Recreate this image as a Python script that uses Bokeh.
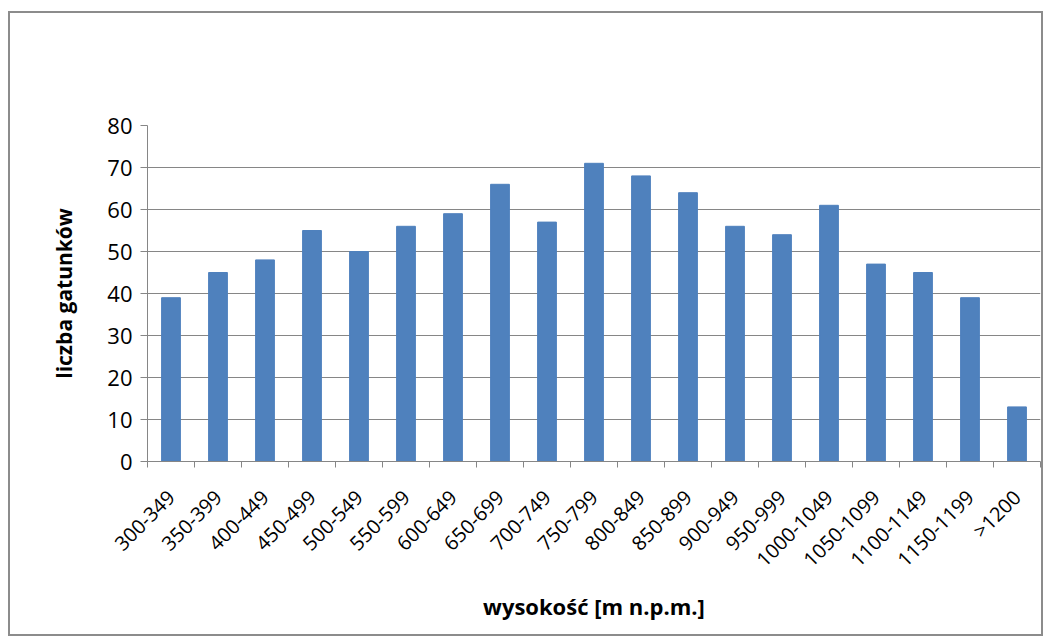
import math
from bokeh.plotting import figure
from bokeh.models import FixedTicker, ColumnDataSource
from bokeh.embed import file_html
from bokeh.resources import INLINE

categories = ["300-349", "350-399", "400-449", "450-499", "500-549", "550-599",
              "600-649", "650-699", "700-749", "750-799", "800-849", "850-899",
              "900-949", "950-999", "1000-1049", "1050-1099", "1100-1149",
              "1150-1199", ">1200"]
values = [39, 45, 48, 55, 50, 56, 59, 66, 57, 71, 68, 64, 56, 54, 61, 47, 45, 39, 13]
y_ticks = [0, 10, 20, 30, 40, 50, 60, 70, 80]

n = len(categories)
centers = [i + 0.5 for i in range(n)]
src = ColumnDataSource(dict(x=centers, top=values))

FONT = "Open Sans"
GRAY = "#868686"

p = figure(width=1035, height=625, output_backend="svg", toolbar_location=None,
           x_range=(0, n), y_range=(0, 80),
           min_border_left=137, min_border_right=5, min_border_top=112,
           min_border_bottom=177)
p.styles = {"border": "2px solid #8c8c8c", "margin-left": "8px", "margin-top": "11px"}
p.outline_line_color = None
p.background_fill_color = "white"
p.border_fill_color = "white"

p.vbar(x="x", top="top", width=0.4, source=src, fill_color="#4F81BD",
       line_color="#4F81BD")

# y axis
p.yaxis.ticker = FixedTicker(ticks=y_ticks)
p.yaxis.axis_line_color = GRAY
p.yaxis.major_tick_line_color = GRAY
p.yaxis.major_tick_in = 0
p.yaxis.major_tick_out = 7
p.yaxis.minor_tick_line_color = None
p.yaxis.major_label_text_font = FONT
p.yaxis.major_label_text_font_size = "22px"
p.yaxis.major_label_text_color = "black"
p.yaxis.major_label_standoff = 8
p.yaxis.axis_label = "liczba gatunków"
p.yaxis.axis_label_text_font = FONT
p.yaxis.axis_label_text_font_size = "21px"
p.yaxis.axis_label_text_font_style = "bold"
p.yaxis.axis_label_text_color = "black"
p.yaxis.axis_label_standoff = 26

p.ygrid.ticker = FixedTicker(ticks=y_ticks)
p.ygrid.grid_line_color = GRAY
p.ygrid.grid_line_width = 1
p.xgrid.grid_line_color = None

# x axis: labels at centers, ticks at category boundaries (minor ticks)
p.xaxis.ticker = FixedTicker(ticks=centers, minor_ticks=list(range(n + 1)))
p.xaxis.major_label_overrides = {c: lab for c, lab in zip(centers, categories)}
p.xaxis.major_tick_line_color = None
p.xaxis.minor_tick_line_color = GRAY
p.xaxis.minor_tick_in = 0
p.xaxis.minor_tick_out = 6
p.xaxis.axis_line_color = GRAY
p.xaxis.major_label_orientation = math.pi / 4
p.xaxis.major_label_text_font = FONT
p.xaxis.major_label_text_font_size = "20px"
p.xaxis.major_label_text_color = "black"
p.xaxis.major_label_standoff = 26
p.xaxis.axis_label = "wysokość [m n.p.m.]"
p.xaxis.axis_label_text_font = FONT
p.xaxis.axis_label_text_font_size = "22px"
p.xaxis.axis_label_text_font_style = "bold"
p.xaxis.axis_label_text_color = "black"
p.xaxis.axis_label_standoff = 6

open("out.html", "w").write(file_html(p, INLINE))
